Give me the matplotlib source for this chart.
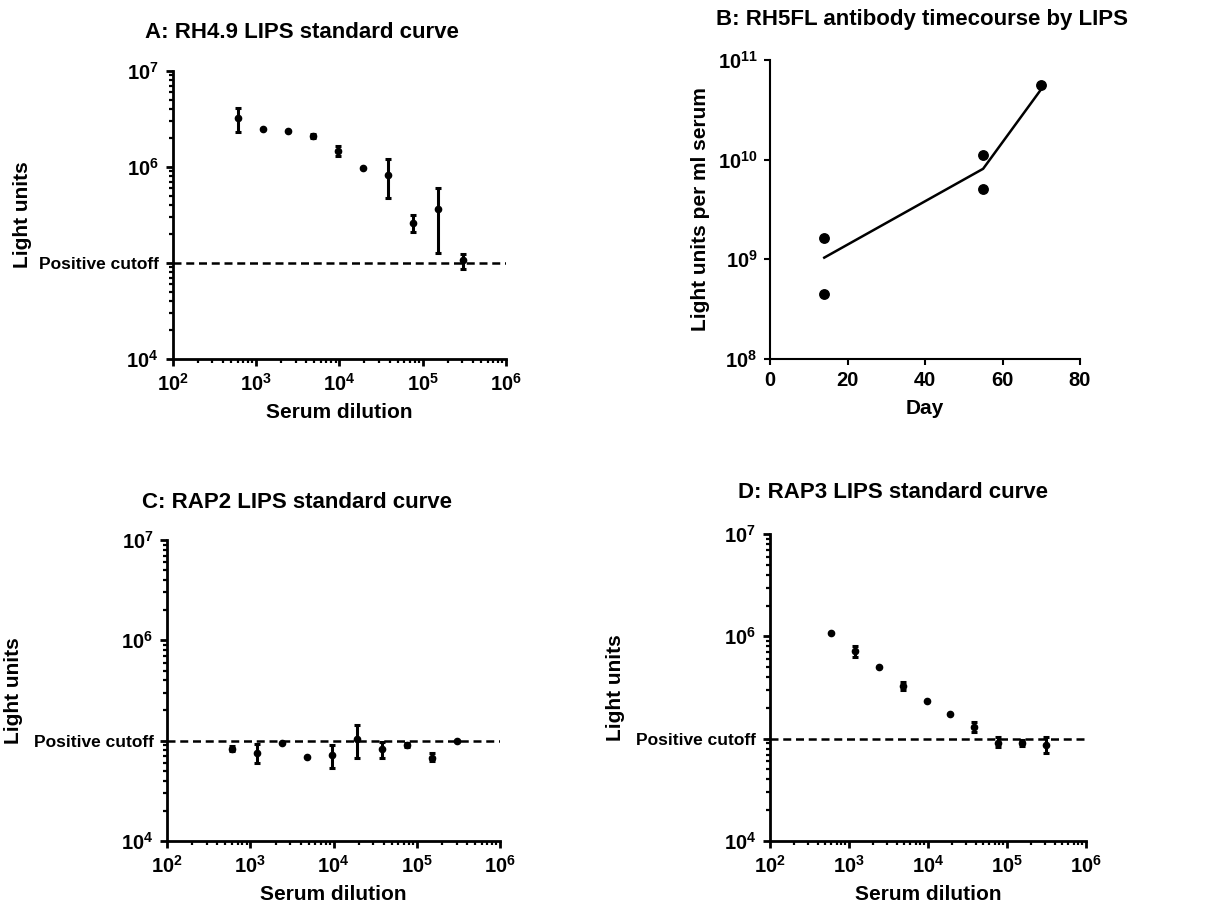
import matplotlib
matplotlib.use('Agg')
from matplotlib import pyplot as plt  # noqa
from matplotlib.ticker import LogLocator, NullFormatter, FixedLocator, FixedFormatter

plt.rcParams['font.family'] = ['Liberation Sans', 'DejaVu Sans']
plt.rcParams['font.weight'] = 'bold'
plt.rcParams['mathtext.fontset'] = 'custom'
plt.rcParams['mathtext.rm'] = 'Liberation Sans:bold'
plt.rcParams['mathtext.bf'] = 'Liberation Sans:bold'

# serum dilution series (panels A, C, D)
dilution = [600, 1200, 2400, 4800, 9600, 19200, 38400, 76800, 153600, 307200]
cutoff = 1.0e5

# panel A: RH4.9 (mean, upper, lower)
a_mean = [3.19e6, 2.49e6, 2.34e6, 2.09e6, 1.47e6, 9.64e5, 8.28e5, 2.60e5, 3.64e5, 1.07e5]
a_high = [4.06e6, 2.49e6, 2.34e6, 2.20e6, 1.64e6, 9.64e5, 1.20e6, 3.15e5, 5.97e5, 1.23e5]
a_low = [2.29e6, 2.49e6, 2.34e6, 1.98e6, 1.31e6, 9.64e5, 4.73e5, 2.08e5, 1.28e5, 8.65e4]

# panel B: RH5FL timecourse
b_day = [14, 14, 55, 55, 70]
b_value = [1.63e9, 4.49e8, 1.11e10, 5.04e9, 5.61e10]
b_line_day = [14, 55, 70]
b_line_mean = [1.04e9, 8.1e9, 5.1e10]

# panel C: RAP2
c_mean = [8.32e4, 7.59e4, 9.55e4, 6.93e4, 7.14e4, 1.03e5, 8.20e4, 9.06e4, 6.77e4, 9.93e4]
c_high = [8.8e4, 9.27e4, 9.55e4, 6.93e4, 8.98e4, 1.43e5, 9.71e4, 9.5e4, 7.6e4, 9.93e4]
c_low = [7.9e4, 5.94e4, 9.55e4, 6.93e4, 5.30e4, 6.67e4, 6.77e4, 8.6e4, 6.2e4, 9.93e4]

# panel D: RAP3
d_mean = [1.09e6, 7.19e5, 5.06e5, 3.27e5, 2.32e5, 1.74e5, 1.31e5, 9.14e4, 9.0e4, 8.67e4]
d_high = [1.09e6, 8.05e5, 5.06e5, 3.58e5, 2.32e5, 1.74e5, 1.46e5, 1.03e5, 9.6e4, 1.04e5]
d_low = [1.09e6, 6.32e5, 5.06e5, 2.99e5, 2.32e5, 1.74e5, 1.17e5, 8.2e4, 8.5e4, 7.3e4]

W, H = 1217, 902


def box(left, top, right, bottom):
    return [left / W, 1 - bottom / H, (right - left) / W, (bottom - top) / H]


def sup(base, p):
    return r'$\mathbf{%d^{%d}}$' % (base, p)


def style_axes(ax, lw=2.0):
    for s in ['top', 'right']:
        ax.spines[s].set_visible(False)
    for s in ['left', 'bottom']:
        ax.spines[s].set_linewidth(lw)
    ax.tick_params(which='major', length=5, width=lw, labelsize=14.5, pad=5)
    ax.tick_params(which='minor', length=3, width=lw * 0.8)


def dilution_panel(ax, mean, high, low, title, tx, ty):
    ax.set_xscale('log')
    ax.set_yscale('log')
    ax.set_xlim(1e2, 1e6)
    ax.set_ylim(1e4, 1e7)
    err = [[m - l for m, l in zip(mean, low)], [h - m for m, h in zip(mean, high)]]
    ax.errorbar(dilution, mean, yerr=err, fmt='o', color='black', ms=4.5,
                elinewidth=2.2, capsize=2.5, capthick=2.2, clip_on=False)
    ax.axhline(cutoff, color='black', ls=(0, (3.2, 1.9)), lw=1.8)
    style_axes(ax)
    ax.xaxis.set_major_locator(FixedLocator([1e2, 1e3, 1e4, 1e5, 1e6]))
    ax.xaxis.set_major_formatter(FixedFormatter([sup(10, p) for p in range(2, 7)]))
    ax.xaxis.set_minor_locator(LogLocator(base=10, subs=range(2, 10), numticks=20))
    ax.xaxis.set_minor_formatter(NullFormatter())
    ax.yaxis.set_major_locator(FixedLocator([1e4, cutoff, 1e6, 1e7]))
    ax.yaxis.set_major_formatter(FixedFormatter([sup(10, 4), 'Positive cutoff', sup(10, 6), sup(10, 7)]))
    ax.yaxis.set_minor_locator(LogLocator(base=10, subs=range(2, 10), numticks=20))
    ax.yaxis.set_minor_formatter(NullFormatter())
    for lab in ax.get_yticklabels():
        if lab.get_text() == 'Positive cutoff':
            lab.set_fontsize(12.5)
    ax.set_xlabel('Serum dilution', fontsize=15, fontweight='bold', labelpad=6)
    ax.set_ylabel('Light units', fontsize=15, fontweight='bold')
    fig.text(tx / W, 1 - ty / H, title, ha='center', va='center', fontsize=16, fontweight='bold')


fig = plt.figure(figsize=(W / 100, H / 100), dpi=100)

axA = fig.add_axes(box(172.7, 70.7, 506, 359))
dilution_panel(axA, a_mean, a_high, a_low, 'A: RH4.9 LIPS standard curve', 302, 33)
axA.yaxis.set_label_coords(-0.422, 0.5)

axC = fig.add_axes(box(167.3, 540, 500, 841))
dilution_panel(axC, c_mean, c_high, c_low, 'C: RAP2 LIPS standard curve', 297, 502)
axC.yaxis.set_label_coords(-0.434, 0.5)

axD = fig.add_axes(box(770, 534, 1086, 841))
dilution_panel(axD, d_mean, d_high, d_low, 'D: RAP3 LIPS standard curve', 893, 493)
axD.yaxis.set_label_coords(-0.459, 0.5)

# panel B
axB = fig.add_axes(box(770, 60, 1080, 359))
axB.set_yscale('log')
axB.set_xlim(0, 80)
axB.set_ylim(1e8, 1e11)
axB.plot(b_line_day, b_line_mean, color='black', lw=1.8)
axB.plot(b_day, b_value, 'o', color='black', ms=6.8, clip_on=False)
style_axes(axB, lw=1.5)
axB.set_xticks([0, 20, 40, 60, 80])
axB.yaxis.set_major_locator(FixedLocator([1e8, 1e9, 1e10, 1e11]))
axB.yaxis.set_major_formatter(FixedFormatter([sup(10, p) for p in range(8, 12)]))
axB.yaxis.set_minor_locator(FixedLocator([]))
axB.tick_params(which='major', length=4)
axB.set_xlabel('Day', fontsize=15, fontweight='bold', labelpad=6)
axB.set_ylabel('Light units per ml serum', fontsize=15, fontweight='bold')
axB.yaxis.set_label_coords(-0.194, 0.5)
fig.text(922 / W, 1 - 20 / H, 'B: RH5FL antibody timecourse by LIPS', ha='center', va='center',
         fontsize=16, fontweight='bold')

plt.savefig('out.png', dpi=100)
